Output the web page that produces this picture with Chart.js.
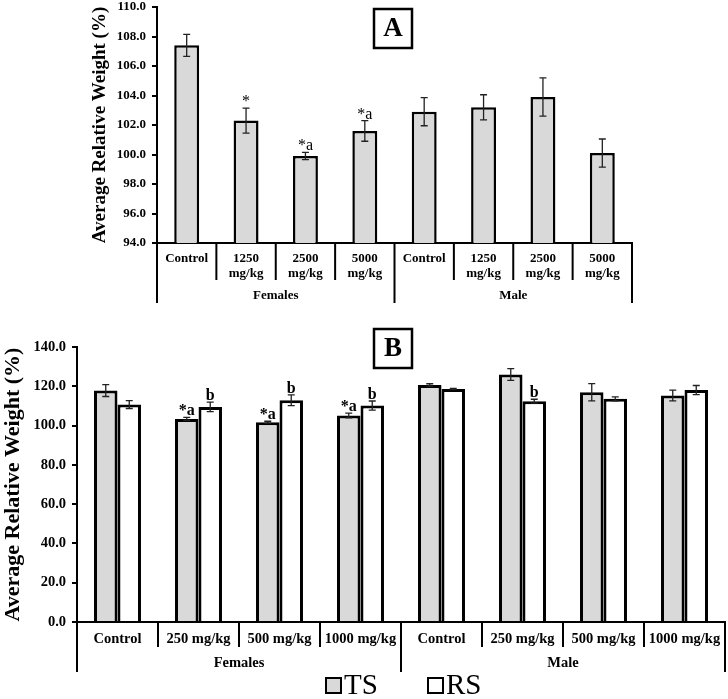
<!DOCTYPE html>
<html>
<head>
<meta charset="utf-8">
<script src="https://cdn.jsdelivr.net/npm/chart.js@4.4.0/dist/chart.umd.min.js"></script>
<style>
  body { margin: 0; background: #fff; }
  canvas { position: absolute; left: 0; }
</style>
</head>
<body>
<canvas id="chartA" width="728" height="330" style="top:0"></canvas>
<canvas id="chartB" width="728" height="373" style="top:326px"></canvas>
<script>
// panel A data
const groupsA = ['Females', 'Male'];
const dosesA = ['Control', ['1250', 'mg/kg'], ['2500', 'mg/kg'], ['5000', 'mg/kg']];
const meanA = [107.4, 102.3, 99.9, 101.6, 102.9, 103.2, 103.9, 100.1];
const errA = [0.75, 0.85, 0.25, 0.7, 0.95, 0.85, 1.3, 0.95];
const markA = ['', '*', '*a', '*a', '', '', '', ''];

// panel B data
const groupsB = ['Females', 'Male'];
const dosesB = ['Control', '250 mg/kg', '500 mg/kg', '1000 mg/kg'];
const seriesB = ['TS', 'RS'];
const tsB = [117.8, 103.4, 101.7, 105.1, 120.7, 126.0, 117.0, 115.3];
const tsErrB = [3.0, 0.8, 0.5, 1.2, 0.6, 3.0, 4.4, 2.7];
const rsB = [110.7, 109.5, 112.9, 110.2, 118.6, 112.4, 113.6, 118.1];
const rsErrB = [2.0, 2.4, 2.7, 2.3, 0.3, 1.0, 1.0, 2.3];
const tsMarkB = ['', '*a', '*a', '*a', '', '', '', ''];
const rsMarkB = ['', 'b', 'b', 'b', '', 'b', '', ''];

const SERIF = "'Liberation Serif', 'Times New Roman', serif";
const GREY = '#d9d9d9';

const extrasPlugin = {
  id: 'extras',
  afterDatasetsDraw(chart, args, opts) {
    const ctx = chart.ctx;
    const y = chart.scales.y;
    ctx.save();
    chart.data.datasets.forEach((ds, di) => {
      const meta = chart.getDatasetMeta(di);
      meta.data.forEach((bar, i) => {
        const v = ds.data[i];
        const e = opts.errors[di][i];
        const top = y.getPixelForValue(v + e);
        const bot = y.getPixelForValue(v - e);
        ctx.strokeStyle = '#222';
        ctx.lineWidth = 1.3;
        ctx.beginPath();
        ctx.moveTo(bar.x, top); ctx.lineTo(bar.x, bot);
        ctx.moveTo(bar.x - 3.5, top); ctx.lineTo(bar.x + 3.5, top);
        ctx.moveTo(bar.x - 3.5, bot); ctx.lineTo(bar.x + 3.5, bot);
        ctx.stroke();
        const m = opts.marks[di][i];
        if (m) {
          ctx.fillStyle = '#000';
          ctx.font = opts.markFont;
          ctx.textAlign = 'center';
          ctx.textBaseline = 'alphabetic';
          ctx.fillText(m, bar.x, top - opts.markGap);
        }
      });
    });
    ctx.restore();
  },
  afterDraw(chart, args, opts) {
    const ctx = chart.ctx;
    const area = chart.chartArea;
    const n = chart.data.labels.length;
    const w = (area.right - area.left) / n;
    const per = n / opts.groups.length;
    ctx.save();
    // category separators under the axis
    ctx.strokeStyle = '#000';
    ctx.lineWidth = 2;
    ctx.beginPath();
    for (let i = 0; i <= n; i++) {
      const x = area.left + i * w;
      const drop = i % per === 0 ? opts.groupDrop : opts.innerDrop;
      ctx.moveTo(x, area.bottom);
      ctx.lineTo(x, area.bottom + drop);
    }
    ctx.stroke();
    // group labels
    ctx.fillStyle = '#000';
    ctx.font = opts.groupFont;
    ctx.textAlign = 'center';
    ctx.textBaseline = 'middle';
    opts.groups.forEach((g, gi) => {
      ctx.fillText(g, area.left + (gi + 0.5) * per * w, area.bottom + opts.groupY);
    });
    // panel letter box
    const b = opts.panelBox;
    ctx.lineWidth = 2.5;
    ctx.strokeRect(b.x, b.y, b.w, b.h);
    ctx.font = 'bold 27px ' + SERIF;
    ctx.fillText(opts.panel, b.x + b.w / 2, b.y + b.h / 2 + 1);
    // legend
    if (opts.legend) {
      const L = opts.legend;
      chart.data.datasets.forEach((ds, di) => {
        const bx = L.x[di];
        ctx.fillStyle = ds.backgroundColor;
        ctx.fillRect(bx, L.y, L.size, L.size);
        ctx.strokeStyle = '#000';
        ctx.lineWidth = 2;
        ctx.strokeRect(bx, L.y, L.size, L.size);
        ctx.fillStyle = '#000';
        ctx.font = L.font;
        ctx.textAlign = 'left';
        ctx.textBaseline = 'middle';
        ctx.fillText(ds.label, bx + L.size + 3, L.y + L.size / 2 + 1);
      });
    }
    ctx.restore();
  }
};

function yAxis(min, max, step, tickSize, titleSize, width) {
  return {
    min: min, max: max,
    ticks: {
      stepSize: step,
      color: '#000',
      padding: 6,
      font: { family: SERIF, size: tickSize, weight: 'bold' },
      callback: v => Number(v).toFixed(1)
    },
    grid: { drawOnChartArea: false, drawTicks: true, tickLength: 5, color: '#000', lineWidth: 2 },
    border: { display: true, color: '#000', width: 2 },
    title: {
      display: true,
      text: 'Average Relative Weight (%)',
      color: '#000',
      padding: 0,
      font: { family: SERIF, size: titleSize, weight: 'bold', lineHeight: 1.2 }
    },
    afterFit: s => { s.width = width; s.paddingTop = 0; s.paddingBottom = 0; }
  };
}

function xAxis(labelSize, height, pad) {
  return {
    ticks: {
      color: '#000',
      padding: pad,
      maxRotation: 0,
      autoSkip: false,
      font: { family: SERIF, size: labelSize, weight: 'bold', lineHeight: 1.15 }
    },
    grid: { display: false },
    border: { display: true, color: '#000', width: 2 },
    afterFit: s => { s.height = height; }
  };
}

Chart.defaults.animation = false;

new Chart(document.getElementById('chartA'), {
  type: 'bar',
  data: {
    labels: groupsA.flatMap(() => dosesA),
    datasets: [{
      label: 'A',
      data: meanA,
      backgroundColor: GREY,
      borderColor: '#000',
      borderWidth: 2.5,
      categoryPercentage: 1,
      barPercentage: 0.42
    }]
  },
  options: {
    responsive: false,
    layout: { padding: { left: 89, right: 96, top: 7, bottom: 0 } },
    scales: {
      x: xAxis(13, 87, 0),
      y: yAxis(94, 110, 2, 13, 19, 68)
    },
    plugins: {
      legend: { display: false },
      tooltip: { enabled: false },
      extras: {
        panel: 'A',
        groups: groupsA,
        errors: [errA],
        marks: [markA],
        markFont: '16px ' + SERIF,
        markGap: 2,
        innerDrop: 37,
        groupDrop: 60,
        groupY: 53,
        groupFont: 'bold 13px ' + SERIF,
        panelBox: { x: 374, y: 9, w: 38, h: 39 }
      }
    }
  },
  plugins: [extrasPlugin]
});

new Chart(document.getElementById('chartB'), {
  type: 'bar',
  data: {
    labels: groupsB.flatMap(() => dosesB),
    datasets: [{
      label: seriesB[0],
      data: tsB,
      backgroundColor: GREY,
      borderColor: '#000',
      borderWidth: 3,
      categoryPercentage: 0.58,
      barPercentage: 1
    }, {
      label: seriesB[1],
      data: rsB,
      backgroundColor: '#ffffff',
      borderColor: '#000',
      borderWidth: 3,
      categoryPercentage: 0.58,
      barPercentage: 1
    }]
  },
  options: {
    responsive: false,
    layout: { padding: { left: 0, right: 3, top: 21, bottom: 0 } },
    scales: {
      x: xAxis(14.5, 77, 1),
      y: yAxis(0, 140, 20, 14.5, 22, 77)
    },
    plugins: {
      legend: { display: false },
      tooltip: { enabled: false },
      extras: {
        panel: 'B',
        groups: groupsB,
        errors: [tsErrB, rsErrB],
        marks: [tsMarkB, rsMarkB],
        markFont: 'bold 16px ' + SERIF,
        markGap: 2,
        innerDrop: 25,
        groupDrop: 50,
        groupY: 41,
        groupFont: 'bold 14.5px ' + SERIF,
        panelBox: { x: 374, y: 3, w: 38, h: 39 },
        legend: { x: [326, 428], y: 352, size: 15, font: '29px ' + SERIF }
      }
    }
  },
  plugins: [extrasPlugin]
});
</script>
</body>
</html>
